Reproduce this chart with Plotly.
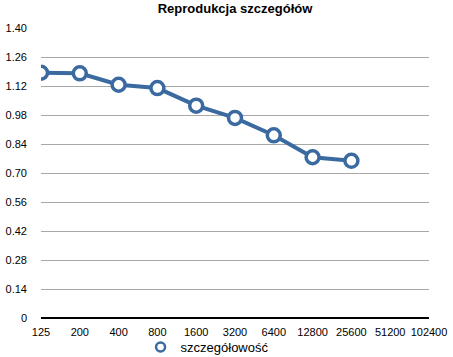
import plotly.graph_objects as go

categories = ["125", "200", "400", "800", "1600", "3200", "6400", "12800", "25600", "51200", "102400"]
values = [1.184, 1.181, 1.126, 1.110, 1.025, 0.966, 0.882, 0.776, 0.759, None, None]
y_ticks = [0, 0.14, 0.28, 0.42, 0.56, 0.70, 0.84, 0.98, 1.12, 1.26, 1.40]
y_labels = ["0", "0.14", "0.28", "0.42", "0.56", "0.70", "0.84", "0.98", "1.12", "1.26", "1.40"]
series_name = "szczegółowość"
title = "Reprodukcja szczegółów"

color = "#3b6aa0"
fig = go.Figure()
fig.add_trace(go.Scatter(
    x=list(range(len(categories))), y=values, name=series_name,
    mode="lines+markers",
    line=dict(color=color, width=4),
    marker=dict(symbol="circle", size=13, color="white", line=dict(color=color, width=3.5)),
    showlegend=False,
))
# legend entry (marker only, as in the reference)
fig.add_trace(go.Scatter(
    x=[None], y=[None], name=series_name, mode="markers",
    marker=dict(symbol="circle", size=9, color="white", line=dict(color=color, width=2.5)),
    showlegend=True,
))
fig.update_layout(
    width=453, height=357,
    margin=dict(l=41, r=24, t=28, b=39, autoexpand=False),
    paper_bgcolor="white", plot_bgcolor="white",
    font=dict(family="Liberation Sans, Arial, sans-serif", size=11, color="black"),
    title=dict(text="<b>" + title + "</b>", xref="paper", x=0.5, xanchor="center",
               yref="container", y=0.99, yanchor="top",
               font=dict(size=13, color="black")),
    xaxis=dict(range=[0, len(categories) - 1], tickmode="array",
               tickvals=list(range(len(categories))), ticktext=categories,
               showgrid=False, zeroline=False, showline=False, ticks="",
               ticklabelstandoff=6, automargin=False),
    yaxis=dict(range=[0, 1.40], tickmode="array", tickvals=y_ticks, ticktext=y_labels,
               showgrid=True, gridcolor="#a8a8a8", gridwidth=1,
               zeroline=True, zerolinecolor="black", zerolinewidth=2,
               showline=False, ticks="", ticklabelstandoff=13, automargin=False),
    legend=dict(orientation="h", x=0.428, xanchor="center",
                yref="container", y=0.028, yanchor="middle",
                bgcolor="rgba(0,0,0,0)", tracegroupgap=0,
                font=dict(size=13), itemwidth=30),
)
fig.write_html("out.html", config={"displayModeBar": False},
               post_script="document.body.style.margin='0';document.body.style.overflow='hidden';")
